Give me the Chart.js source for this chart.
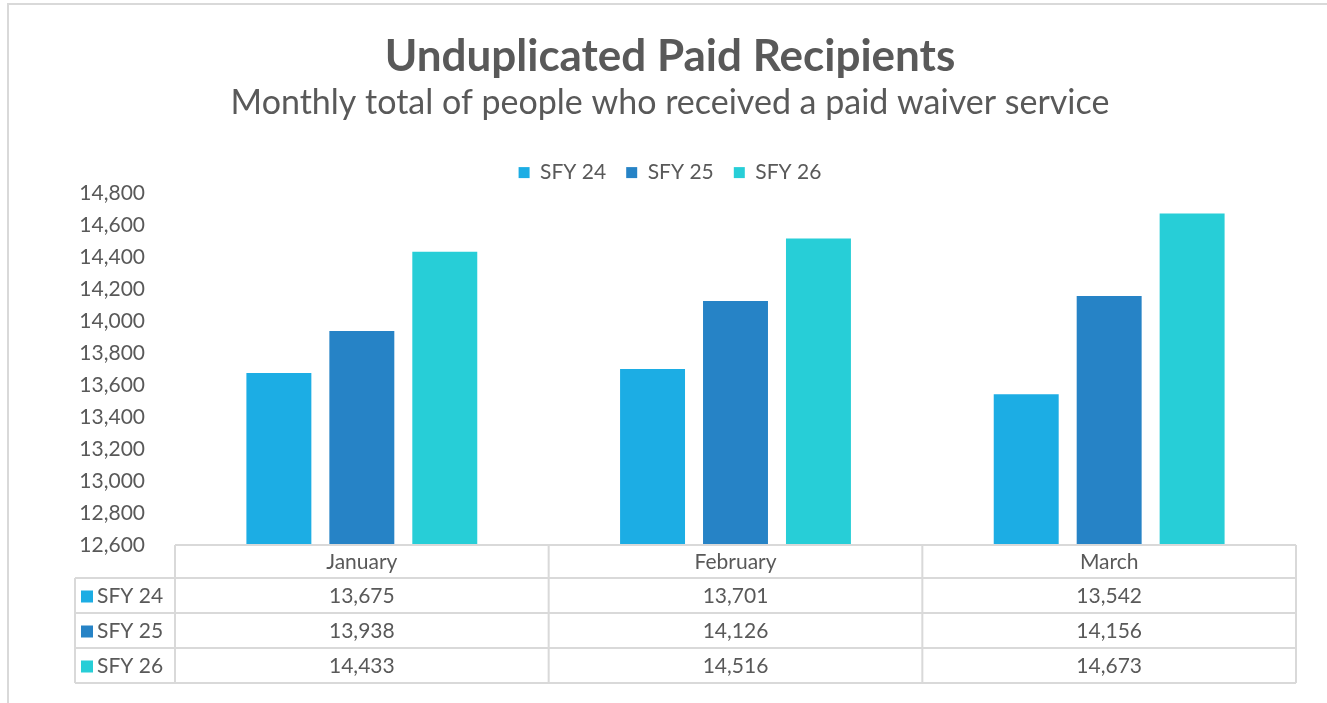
<!DOCTYPE html>
<html>
<head>
<meta charset="utf-8">
<title>Unduplicated Paid Recipients</title>
<script src="https://cdn.jsdelivr.net/npm/chart.js@4/dist/chart.umd.min.js"></script>
<style>
  html, body { margin: 0; padding: 0; background: #fff; }
  #wrap { width: 1327px; height: 703px; }
</style>
</head>
<body>
<div id="wrap"><canvas id="paidChart"></canvas></div>
<script>
const months = ['January', 'February', 'March'];
const seriesNames = ['SFY 24', 'SFY 25', 'SFY 26'];
const sfy24 = [13675, 13701, 13542];
const sfy25 = [13938, 14126, 14156];
const sfy26 = [14433, 14516, 14673];
const seriesColors = ['#1CADE4', '#2683C6', '#27CED7'];

const yMin = 12600;
const yMax = 14800;
const yStep = 200;

const textColor = '#595959';
const lineColor = '#d9d9d9';
const fontFamily = 'Lato, "Open Sans", sans-serif';

const fmt = v => v.toLocaleString('en-US');

// outer frame like the office chart border
const framePlugin = {
  id: 'frame',
  beforeDraw(chart) {
    const ctx = chart.ctx;
    ctx.save();
    ctx.strokeStyle = lineColor;
    ctx.lineWidth = 2;
    ctx.strokeRect(8, 4, chart.width + 20, chart.height + 20);
    ctx.restore();
  }
};

// data table under the plot, columns follow the x scale
const dataTablePlugin = {
  id: 'dataTable',
  afterDraw(chart) {
    const ctx = chart.ctx;
    const xs = chart.scales.x;
    const area = chart.chartArea;
    const n = months.length;
    const colW = (xs.right - xs.left) / n;
    const top = area.bottom;
    const headerH = 33;
    const rowH = 35;
    const legendLeft = 75;
    const bottom = top + headerH + rowH * seriesNames.length;

    ctx.save();
    ctx.strokeStyle = lineColor;
    ctx.lineWidth = 2;

    // horizontal lines
    ctx.beginPath();
    ctx.moveTo(xs.left, top);
    ctx.lineTo(xs.right, top);
    for (let r = 0; r <= seriesNames.length; r++) {
      const y = top + headerH + r * rowH;
      ctx.moveTo(legendLeft, y);
      ctx.lineTo(xs.right, y);
    }
    // vertical lines
    for (let c = 0; c <= n; c++) {
      const x = xs.left + c * colW;
      ctx.moveTo(x, top);
      ctx.lineTo(x, bottom);
    }
    ctx.moveTo(legendLeft, top + headerH);
    ctx.lineTo(legendLeft, bottom);
    ctx.stroke();

    ctx.fillStyle = textColor;
    ctx.font = '21px ' + fontFamily;
    ctx.textAlign = 'center';
    ctx.textBaseline = 'middle';
    months.forEach((m, i) => {
      ctx.fillText(m, xs.left + (i + 0.5) * colW, top + headerH / 2 + 1);
    });

    const rows = [sfy24, sfy25, sfy26];
    rows.forEach((vals, r) => {
      const cy = top + headerH + r * rowH + rowH / 2 + 1;
      ctx.fillStyle = seriesColors[r];
      ctx.fillRect(legendLeft + 6, cy - 6, 12, 12);
      ctx.fillStyle = textColor;
      ctx.textAlign = 'left';
      ctx.fillText(seriesNames[r], legendLeft + 22, cy);
      ctx.textAlign = 'center';
      vals.forEach((v, i) => {
        ctx.fillText(fmt(v), xs.left + (i + 0.5) * colW, cy);
      });
    });
    ctx.restore();
  }
};

const ctx = document.getElementById('paidChart').getContext('2d');
const paidChart = new Chart(ctx, {
  type: 'bar',
  data: {
    labels: months,
    datasets: [
      { label: seriesNames[0], data: sfy24, backgroundColor: seriesColors[0] },
      { label: seriesNames[1], data: sfy25, backgroundColor: seriesColors[1] },
      { label: seriesNames[2], data: sfy26, backgroundColor: seriesColors[2] }
    ]
  },
  options: {
    responsive: true,
    maintainAspectRatio: false,
    animation: false,
    locale: 'en-US',
    datasets: {
      bar: { categoryPercentage: 0.666, barPercentage: 0.783 }
    },
    layout: { padding: { left: 44, top: 0, right: 31, bottom: 158 } },
    plugins: {
      title: {
        display: true,
        text: 'Unduplicated Paid Recipients',
        color: textColor,
        font: { family: fontFamily, size: 44, weight: 'bold' },
        padding: { top: 30, bottom: 0 }
      },
      subtitle: {
        display: true,
        text: 'Monthly total of people who received a paid waiver service',
        color: textColor,
        font: { family: fontFamily, size: 34 },
        padding: { top: 0, bottom: 18.5 }
      },
      legend: {
        display: true,
        position: 'top',
        labels: {
          color: textColor,
          font: { family: fontFamily, size: 21 },
          boxWidth: 11,
          boxHeight: 11,
          padding: 20
        }
      },
      tooltip: { enabled: false }
    },
    scales: {
      x: {
        display: false
      },
      y: {
        min: yMin,
        max: yMax,
        grid: { display: false, drawTicks: false },
        border: { display: false },
        ticks: {
          stepSize: yStep,
          padding: 30,
          color: textColor,
          font: { family: fontFamily, size: 21 },
          callback: v => fmt(v)
        },
        afterFit(scale) { scale.width = 131; }
      }
    }
  },
  plugins: [framePlugin, dataTablePlugin]
});
</script>
</body>
</html>
